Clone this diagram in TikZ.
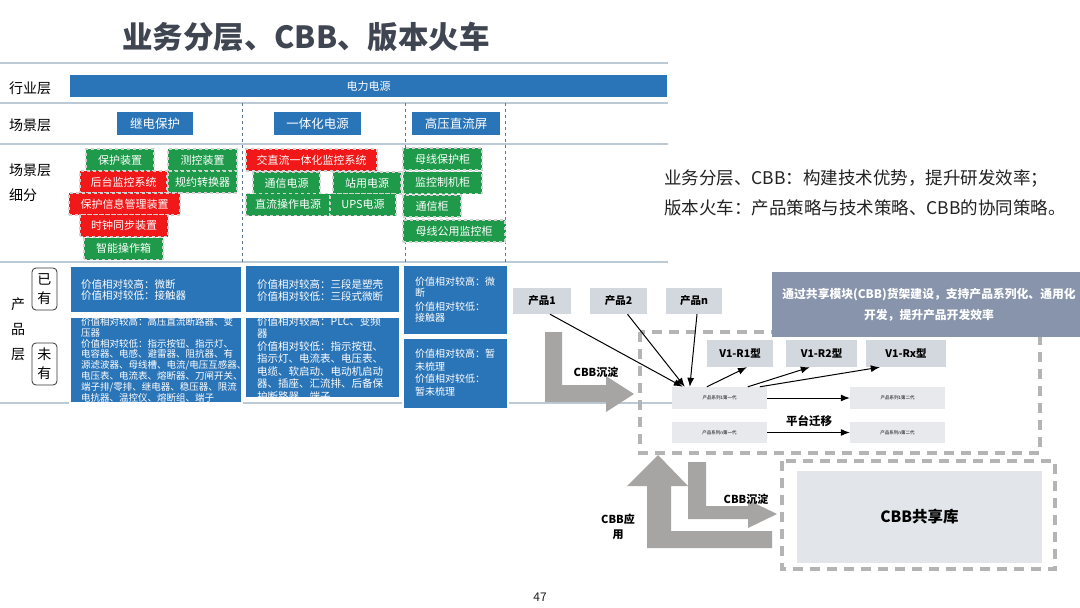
\documentclass[tikz,border=0pt]{standalone}
\usepackage{fontspec}
\setmainfont{Noto Sans CJK SC}
\usetikzlibrary{calc,arrows.meta}

\definecolor{barblue}{HTML}{2A74B8}
\definecolor{sgreen}{HTML}{1E9A4A}
\definecolor{sred}{HTML}{F01818}
\definecolor{tline}{HTML}{BCCAD6}
\definecolor{sepline}{HTML}{5F7690}
\definecolor{titlegray}{HTML}{3F4551}
\definecolor{cbbgray}{HTML}{A7A4A4}
\definecolor{dashgray}{HTML}{B4B4B4}
\definecolor{bannerblue}{HTML}{8794AB}
\definecolor{pgray}{HTML}{D3D8DF}
\definecolor{ggray}{HTML}{E7E9EC}
\definecolor{libgray}{HTML}{E2E6EA}
\definecolor{inkgray}{HTML}{222222}

\newcommand{\pxfont}[2]{\fontsize{#1}{#2}\selectfont}

\begin{document}
\begin{tikzpicture}[x=1pt,y=-1pt,>={Latex[length=9pt,width=7pt]},
		rowlabel/.style={anchor=west, inner sep=0, align=left, font=\pxfont{14}{25}},
		scenebox/.style={fill=barblue, text=white, inner sep=0, minimum height=23, font=\pxfont{12.5}{14}},
		subbox/.style={draw=white!65!gray, dashed, line width=1.2pt, text=white, inner sep=0, minimum height=22, font=\pxfont{11}{13}},
		gbox/.style={subbox, fill=sgreen},
		rbox/.style={subbox, fill=sred},
		prodbox/.style={fill=barblue, draw=white, line width=1.5pt, inner sep=0},
		prodtxt/.style={anchor=north west, inner sep=0, align=left, text=white},
		ownbox/.style={draw=black!80, rounded corners=4pt, line width=0.8pt, minimum width=25, minimum height=42, inner sep=0, align=center, font=\pxfont{14}{19}},
		tabline/.style={tline, line width=1.3pt},
		sepdash/.style={sepline, dashed, line width=1pt},
		lightbox/.style={fill=pgray, inner sep=0, minimum height=26, font=\bfseries\pxfont{10.5}{12}},
		genbox/.style={fill=ggray, inner sep=0, minimum width=95, font=\pxfont{4.5}{5}},
		cbbdash/.style={dashgray, line width=3.5pt, dash pattern=on 10pt off 7pt},
		cbbarrow/.style={fill=cbbgray},
		cbblabel/.style={inner sep=0, align=center, font=\bfseries\pxfont{11}{15}}]
	\useasboundingbox (0,0) rectangle (1080,608);
	\clip (0,0) rectangle (1080,608);
	\fill[white] (0,0) rectangle (1080,608);

	%% ========================================================
	\node[inner sep=0, text=titlegray, font=\bfseries\pxfont{30.5}{32}] (title) at (306,37) {业务分层、CBB、版本火车};

	% table rules
	\draw[tabline] (0,63) -- (668,63);
	\draw[tabline] (0,103) -- (668,103);
	\draw[tabline] (0,144) -- (668,144);
	\draw[tabline] (0,262) -- (668,262);
	\draw[tabline] (0,403) -- (672,403);
	\foreach \xs in {242,405,505}
		\draw[sepdash] (\xs,103) -- (\xs,262);

	\node[rowlabel] (lhy) at (9,88) {行业层};
	\node[rowlabel] (lcj) at (9,125) {场景层};
	\node[rowlabel] (lxf) at (9,183) {场景层\\细分};
	\node[inner sep=0, align=center, font=\pxfont{14}{25}] (lcp) at (18,329) {产\\品\\层};
	\node[ownbox] (yiyou) at (44.5,289) {已\\有};
	\node[ownbox] (weiyou) at (44.5,364) {未\\有};

	\node[fill=barblue, text=white, inner sep=0, minimum width=597, minimum height=22, font=\pxfont{11}{13}] (hangye) at (368.5,86) {电力电源};

	\node[scenebox, minimum width=76] (jdbh) at (155,123.5) {继电保护};
	\node[scenebox, minimum width=87] (ytdy) at (317.5,123.5) {一体化电源};
	\node[scenebox, minimum width=88] (gyzl) at (456,123.5) {高压直流屏};

	%% ========================================================
	% 继电保护
	\node[gbox, minimum width=68] (bhzz) at (120,160) {保护装置};
	\node[gbox, minimum width=69] (ckzz) at (202.5,160) {测控装置};
	\node[rbox, minimum width=87] (htjk) at (123.5,182) {后台监控系统};
	\node[gbox, minimum width=69] (gyzh) at (202.5,182) {规约转换器};
	\node[rbox, minimum width=111] (bhxx) at (124.5,204) {保护信息管理装置};
	\node[rbox, minimum width=88] (szdb) at (124,225.5) {时钟同步装置};
	\node[gbox, minimum width=79] (zncz) at (123.5,248.5) {智能操作箱};
	% 一体化电源
	\node[rbox, minimum width=131] (jzl) at (311.5,160) {交直流一体化监控系统};
	\node[gbox, minimum width=67] (txdy) at (286.5,183) {通信电源};
	\node[gbox, minimum width=68] (zydy) at (367,183) {站用电源};
	\node[gbox, minimum width=84] (zlcz) at (288,204.5) {直流操作电源};
	\node[gbox, minimum width=66] (ups) at (363,204.5) {UPS电源};
	% 高压直流屏
	\node[gbox, minimum width=79] (mxbh) at (442.5,159) {母线保护柜};
	\node[gbox, minimum width=79] (jkzj) at (442.5,182.5) {监控制机柜};
	\node[gbox, minimum width=58] (txg) at (432,206) {通信柜};
	\node[gbox, minimum width=102] (mxgy) at (454,231) {母线公用监控柜};

	%% ========================================================
	% 产品层
	\node[prodbox, minimum width=172, minimum height=47] (a1) at (156,289.5) {};
	\node[prodtxt, font=\pxfont{10.5}{11.5}] (a1t) at (81,279) {价值相对较高：微断\\价值相对较低：接触器};
	\node[prodbox, minimum width=155, minimum height=48] (b1) at (322.5,289) {};
	\node[prodtxt, font=\pxfont{10.5}{12}] (b1t) at (257,279) {价值相对较高：三段是塑壳\\价值相对较低：三段式微断};
	\node[prodbox, minimum width=105, minimum height=70] (c1) at (455.5,300) {};
	\node[prodtxt, font=\pxfont{10}{11}] (c1t) at (415,277) {价值相对较高：微\\断\\[3pt]价值相对较低：\\接触器};
	\node[prodbox, minimum width=105, minimum height=71] (c2) at (455.5,373.5) {};
	\node[prodtxt, font=\pxfont{10}{12.5}] (c2t) at (415,349) {价值相对较高：暂\\未梳理\\价值相对较低：\\暂未梳理};
	\begin{scope}
		\clip (69,316) rectangle (243,404);
		\node[prodbox, minimum width=172, minimum height=86] (a2) at (156,360) {};
		\node[prodtxt, font=\pxfont{9.5}{10.9}] (a2t) at (81,317) {价值相对较高：高压直流断路器、变\\压器\\价值相对较低：指示按钮、指示灯、\\电容器、电感、避雷器、阻抗器、有\\源滤波器、母线槽、电流/电压互感器、\\电压表、电流表、熔断器、刀闸开关、\\端子排/零排、继电器、稳压器、限流\\电抗器、温控仪、熔断组、端子};
	\end{scope}
	\begin{scope}
		\clip (244,316) rectangle (401,399);
		\node[prodbox, minimum width=155, minimum height=81] (b2) at (322.5,357.5) {};
		\node[prodtxt, font=\pxfont{10.5}{12.5}] (b2t) at (257,316) {价值相对较高：PLC、变频\\器\\价值相对较低：指示按钮、\\指示灯、电流表、电压表、\\电缆、软启动、电动机启动\\器、插座、汇流排、后备保\\护断路器、端子};
	\end{scope}

	%% ========================================================
	\node[anchor=west, inner sep=0, text=inkgray, align=left, font=\pxfont{17.5}{30}] (summary) at (664,193) {业务分层、CBB：构建技术优势，提升研发效率；\\版本火车：产品策略与技术策略、CBB的协同策略。};

	%% ========================================================
	% 版本火车 / CBB
	\draw[cbbdash] (640,332) rectangle (1040,453);
	\draw[cbbdash] (782,461) rectangle (1055,569);
	\node[fill=libgray, inner sep=0, minimum width=245, minimum height=92, font=\bfseries\pxfont{15.5}{17}] (cbblib) at (919.5,517) {CBB共享库};

	\node[fill=bannerblue, inner sep=0, minimum width=328, minimum height=65] (banner) at (936,304.5) {};
	\node[text=white, inner sep=0, align=center, font=\bfseries\pxfont{11.8}{21}] (bannertxt) at (929,304.5) {通过共享模块(CBB)货架建设，支持产品系列化、通用化\\开发，提升产品开发效率};

	\node[lightbox, minimum width=58] (p1) at (542,301) {产品1};
	\node[lightbox, minimum width=57] (p2) at (618.5,301) {产品2};
	\node[lightbox, minimum width=56] (pn) at (694,301) {产品n};

	\node[lightbox, minimum width=66, minimum height=27] (v1) at (740,353.5) {V1-R1型};
	\node[lightbox, minimum width=71, minimum height=27] (v2) at (821.5,353.5) {V1-R2型};
	\node[lightbox, minimum width=80, minimum height=27] (vx) at (906,353.5) {V1-Rx型};

	\node[genbox, minimum height=22] (g11) at (719.5,398) {产品系列1第一代};
	\node[genbox, minimum height=21] (g1n) at (719.5,432.5) {产品系列n第一代};
	\node[genbox, minimum height=22] (g21) at (897.5,398) {产品系列1第二代};
	\node[genbox, minimum height=21] (g2n) at (897.5,432.5) {产品系列n第二代};

	\draw[->, line width=1pt] ($(p1.south)+(8,0)$) -- ($(g11.north west)+(11,0)$);
	\draw[->, line width=1pt] ($(p2.south)+(9,0)$) -- ($(g11.north west)+(13,0)$);
	\draw[->, line width=1pt] ($(pn.south)+(3,0)$) -- ($(g11.north west)+(18,0)$);
	\draw[->, line width=1pt] ($(g11.north west)+(35,0)$) -- ($(v1.south)+(7,0)$);
	\draw[->, line width=1pt] ($(g11.north west)+(76,0)$) -- ($(v2.south west)+(24,0)$);
	\draw[->, line width=1pt] ($(g11.north west)+(88,0)$) -- ($(vx.south west)+(14,0)$);
	\draw[->, line width=1pt] (g11.east) -- (g21.west);
	\draw[->, line width=1pt] (g1n.east) -- (g2n.west);
	\node[inner sep=0, font=\bfseries\pxfont{11.5}{13}] (qianyi) at (809,421) {平台迁移};

	% gray L-arrows
	\fill[cbbarrow] (545,332) -- (562,332) -- (562,385) -- (606,385) -- (606,376) -- (634,394) -- (606,412) -- (606,402) -- (545,402) -- cycle;
	\node[cbblabel] (cd1) at (596,372) {CBB沉淀};
	\fill[cbbarrow] (772,531) -- (772,548) -- (647,548) -- (647,486) -- (627,486) -- (658,455) -- (688,486) -- (671,486) -- (671,531) -- cycle;
	\fill[cbbarrow] (688,462) -- (706,462) -- (706,506) -- (748,506) -- (748,500) -- (777,514) -- (748,528) -- (748,519) -- (688,519) -- cycle;
	\node[cbblabel] (cd2) at (746,499) {CBB沉淀};
	\node[cbblabel] (yy) at (618,527) {CBB应\\用};

	\node[inner sep=0, text=inkgray, font=\pxfont{12}{14}] (pg) at (540,597) {47};
	%% ========================================================
\end{tikzpicture}
\end{document}
